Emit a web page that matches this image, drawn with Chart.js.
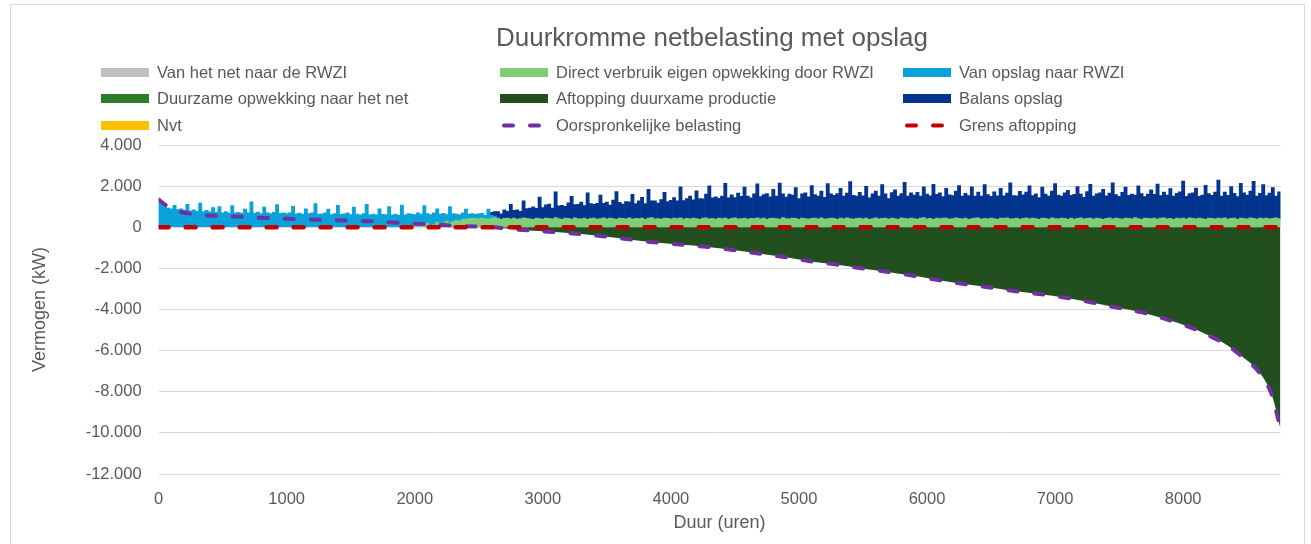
<!DOCTYPE html>
<html>
<head>
<meta charset="utf-8">
<script src="https://cdn.jsdelivr.net/npm/chart.js@4.4.1/dist/chart.umd.min.js"></script>
<style>
  html, body { margin: 0; padding: 0; background: #fff; }
  #wrap { position: relative; width: 1311px; height: 544px; overflow: hidden; font-family: "Liberation Sans", Arial, sans-serif; color: #595959; }
  #rand { position: absolute; left: 10px; top: 4px; width: 1295px; height: 560px; border: 1px solid #d9d9d9; box-sizing: border-box; }
  #titel { position: absolute; left: 712px; top: 22px; transform: translateX(-50%); font-size: 26px; line-height: 30px; white-space: nowrap; }
  #legenda { position: absolute; left: 101px; top: 59px; display: grid; grid-template-columns: 399px 403px 300px; grid-auto-rows: 26.5px; font-size: 16.5px; }
  .item { display: flex; align-items: center; white-space: nowrap; }
  .blok { width: 48px; height: 9px; margin-right: 8px; flex: none; }
  canvas { position: absolute; left: 0; top: 0; }
</style>
</head>
<body>
<div id="wrap">
  <div id="rand"></div>
  <canvas id="grafiek" width="1311" height="544"></canvas>
  <div id="titel">Duurkromme netbelasting met opslag</div>
  <div id="legenda"></div>
</div>
<script>
// stapgrootte van de staven (uren)
const stap = 25;

// Van opslag naar RWZI, vanaf uur 0
const opslagStart = 0;
const opslagNaarRwzi = [
  1250,1120,980,930,900,1060,860,900,830,1120,800,850,780,1180,760,820,750,960,720,1010,
  700,760,690,1050,700,720,680,880,700,1240,690,740,670,980,700,660,720,1100,680,700,
  660,700,1020,650,690,640,900,660,700,1150,640,650,700,880,620,660,1060,630,650,700,
  620,980,640,600,660,1120,610,640,600,900,630,620,1000,600,640,580,1080,610,590,620,
  470,660,540,990,460,540,580,650,490,480,320,780,380,290,320,320,480,220,230,200,
  250,230,170,480,130,80,40
];

// Direct verbruik eigen opwekking door RWZI, vanaf uur 1950
const directStart = 1950;
const directVerbruik = [
  80,20,150,40,100,60,200,80,120,250,150,200,300,220,280,350,300,380,400,420,430,
  430,410,450,420,400,440,460,420,390,430,450,410,440,400,420,460,430,410,390,440,420,
  400,450,430,410,470,420,390,440,430,400,460,420,410,450,380,430,440,400,420,460,410,
  440,420,390,450,430,410,460,400,430,420,450,390,440,470,410,420,400,450,430,410,440,
  420,460,400,430,410,450,420,390,440,460,410,430,400,450,420,440,380,430,460,410,420,
  450,400,430,420,460,410,440,390,430,450,420,400,470,420,410,440,430,390,450,420,400,
  430,440,410,460,400,420,450,430,390,440,410,460,420,400,430,450,410,440,380,420,460,
  410,430,450,400,440,420,390,460,430,410,450,420,400,440,470,410,430,390,450,420,440,
  440,400,420,460,430,410,450,390,420,440,460,400,430,410,450,420,380,440,430,460,410,
  420,450,400,430,460,410,440,420,390,450,430,400,460,420,410,440,430,390,450,400,430,
  460,410,430,440,400,450,420,390,430,460,410,440,420,400,450,430,410,470,420,390,440,
  430,420,450,400,440,460,410,430,390,450,420,440,400,460,430,410,450,420,390,440,430,
  410,440,420,460,400,430,450,390,440,420,410,460,430,400,450,420,440,410,430,460,420
];

// Balans opslag, vanaf uur 2600
const balansStart = 2600;
const balansOpslag = [
  150,220,300,260,420,330,700,380,450,360,820,480,
  520,600,480,1050,560,640,700,520,1250,620,680,580,760,1100,640,700,820,600,1300,720,
  680,760,1150,700,820,640,900,1350,760,700,840,780,1200,720,860,1000,760,1400,820,880,
  760,940,1250,820,900,1000,860,1500,900,960,1100,880,1350,1000,940,1150,1600,1000,1080,960,
  1100,1700,1050,1150,980,1250,1080,1500,1120,1000,1200,1650,1080,1150,1250,1050,1400,1100,1750,1150,
  1050,1200,1120,1500,1000,1180,1250,1080,1600,1150,1100,1300,1050,1700,1180,1120,1250,1450,1100,1200,
  1800,1150,1080,1250,1120,1550,1050,1200,1300,1100,1650,1180,1000,1250,1400,1120,1180,1750,1100,1230,
  1150,1300,1080,1500,1200,1100,1700,1150,1250,1050,1450,1180,1120,1300,1600,1100,1200,1150,1550,1080,
  1250,1120,1650,1180,1050,1300,1150,1450,1100,1200,1750,1120,1080,1350,1150,1250,1600,1100,1200,1050,
  1500,1180,1120,1300,1700,1150,1080,1250,1400,1100,1200,1550,1150,1050,1300,1650,1120,1180,1250,1450,
  1100,1200,1750,1150,1080,1300,1500,1120,1200,1100,1600,1250,1050,1180,1400,1150,1700,1100,1250,1150,
  1450,1120,1200,1300,1800,1100,1180,1250,1500,1050,1150,1650,1200,1120,1300,1850,1100,1250,1150,1550,
  1200,1100,1700,1250,1150,1300,1800,1120,1200,1650,1100,1250,1500,1050,1300
];

// oorspronkelijke belasting en aftopping (kW) op deze uren
const curveUren = [0,50,100,170,350,550,770,970,1180,1380,1590,1790,1980,2190,2400,2600,2800,3000,3200,3400,3600,3840,4150,4360,4560,4740,4920,5110,5300,5490,5670,5870,6040,6220,6410,6610,6790,6980,7200,7470,7670,7860,8040,8200,8350,8450,8560,8640,8690,8720,8740,8760];
const oorspronkelijk = [1350,1100,900,750,590,535,470,420,375,340,310,240,180,115,50,0,-115,-200,-280,-390,-530,-715,-880,-1010,-1170,-1320,-1480,-1675,-1820,-2000,-2150,-2340,-2520,-2700,-2860,-3040,-3190,-3330,-3560,-3890,-4130,-4460,-4830,-5270,-5760,-6240,-6810,-7460,-8110,-8770,-9300,-9800];
const aftopping = [0,0,0,0,0,0,0,0,0,0,0,0,0,0,0,0,-115,-200,-280,-390,-530,-715,-880,-1010,-1170,-1320,-1480,-1675,-1820,-2000,-2150,-2340,-2520,-2700,-2860,-3040,-3190,-3330,-3560,-3890,-4130,-4460,-4830,-5270,-5760,-6240,-6810,-7460,-8110,-8770,-9300,-9800];

const grensUren = [0, 8760];
const grensAftopping = [0, 0];

// as-labels
const xTickWaarden = [0, 1000, 2000, 3000, 4000, 5000, 6000, 7000, 8000];
const yTickWaarden = [-12000, -10000, -8000, -6000, -4000, -2000, 0, 2000, 4000];

function punten(start, waarden) {
  return waarden.map((v, i) => ({ x: start + i * stap, y: v }));
}
function paren(uren, waarden) {
  return waarden.map((v, i) => ({ x: uren[i], y: v }));
}
function nl(v) {
  const s = Math.abs(v).toString().replace(/\B(?=(\d{3})+(?!\d))/g, '.');
  return (v < 0 ? '-' : '') + s;
}

const staaf = { type: 'bar', order: 3, borderWidth: 0, barPercentage: 1, categoryPercentage: 1 };

const datasets = [
  { ...staaf, label: 'Van het net naar de RWZI', data: [], backgroundColor: '#bfbfbf' },
  { ...staaf, label: 'Direct verbruik eigen opwekking door RWZI', data: punten(directStart, directVerbruik), backgroundColor: '#80cd77' },
  { ...staaf, label: 'Van opslag naar RWZI', data: punten(opslagStart, opslagNaarRwzi), backgroundColor: '#0aa2db' },
  { ...staaf, label: 'Duurzame opwekking naar het net', data: [], backgroundColor: '#2e7b2c' },
  { type: 'line', order: 2, stack: 'aftop', label: 'Aftopping duurxame productie', data: paren(curveUren, aftopping),
    backgroundColor: '#214f1d', borderWidth: 0, pointRadius: 0, fill: 'origin', cubicInterpolationMode: 'monotone' },
  { ...staaf, label: 'Balans opslag', data: punten(balansStart, balansOpslag), backgroundColor: '#03358f' },
  { ...staaf, label: 'Nvt', data: [], backgroundColor: '#ffc000' },
  { type: 'line', order: 1, stack: 'oorspr', label: 'Oorspronkelijke belasting', data: paren(curveUren, oorspronkelijk),
    borderColor: '#7030a0', borderWidth: 4, borderDash: [9, 17], borderCapStyle: 'round', pointRadius: 0, fill: false,
    cubicInterpolationMode: 'monotone' },
  { type: 'line', order: 0, stack: 'grens', label: 'Grens aftopping', data: paren(grensUren, grensAftopping),
    borderColor: '#c00000', borderWidth: 4.5, borderDash: [10, 17], borderCapStyle: 'round', pointRadius: 0, fill: false }
];

const tekstKleur = '#595959';
const lettertype = '"Liberation Sans", Arial, sans-serif';

new Chart(document.getElementById('grafiek'), {
  type: 'bar',
  data: { datasets },
  options: {
    responsive: false,
    animation: false,
    devicePixelRatio: 1,
    layout: { padding: { left: 11, right: 30.5, top: 145, bottom: 10 } },
    plugins: { legend: { display: false }, title: { display: false }, tooltip: { enabled: false } },
    scales: {
      x: {
        type: 'linear', min: 0, max: 8760, offset: false, stacked: true,
        grid: { display: false }, border: { display: false },
        ticks: {
          autoSkip: false, padding: 8, color: tekstKleur,
          font: { family: lettertype, size: 16.5 }, maxRotation: 0, minRotation: 0,
          callback: v => String(v)
        },
        afterBuildTicks: s => { s.ticks = xTickWaarden.map(v => ({ value: v })); },
        afterFit: s => { s.height = 60; },
        title: { display: true, text: 'Duur (uren)', color: tekstKleur, font: { family: lettertype, size: 18 }, padding: { top: 0, bottom: 0 } }
      },
      y: {
        min: -12000, max: 4000, stacked: true,
        grid: { color: '#d9d9d9', lineWidth: 1, drawTicks: false }, border: { display: false },
        ticks: { autoSkip: false, padding: 17, color: tekstKleur, font: { family: lettertype, size: 16.5 }, callback: v => nl(v) },
        afterBuildTicks: s => { s.ticks = yTickWaarden.map(v => ({ value: v })); },
        afterFit: s => { s.width = 147.6; },
        title: { display: true, text: 'Vermogen (kW)', color: tekstKleur, font: { family: lettertype, size: 18 }, padding: { top: 18, bottom: 0 } }
      }
    }
  }
});

// legenda in drie kolommen, zoals in Excel
const legenda = document.getElementById('legenda');
datasets.forEach(ds => {
  const item = document.createElement('div');
  item.className = 'item';
  let blok;
  if (ds.type === 'line' && ds.borderDash) {
    blok = document.createElementNS('http://www.w3.org/2000/svg', 'svg');
    blok.setAttribute('width', '48');
    blok.setAttribute('height', '9');
    blok.style.marginRight = '8px';
    blok.style.flex = 'none';
    blok.innerHTML = '<line x1="4" y1="4.5" x2="46" y2="4.5" stroke="' + ds.borderColor +
      '" stroke-width="4" stroke-linecap="round" stroke-dasharray="9 17"/>';
  } else {
    blok = document.createElement('div');
    blok.className = 'blok';
    blok.style.background = ds.backgroundColor;
  }
  const tekst = document.createElement('span');
  tekst.textContent = ds.label;
  item.appendChild(blok);
  item.appendChild(tekst);
  legenda.appendChild(item);
});
</script>
</body>
</html>
